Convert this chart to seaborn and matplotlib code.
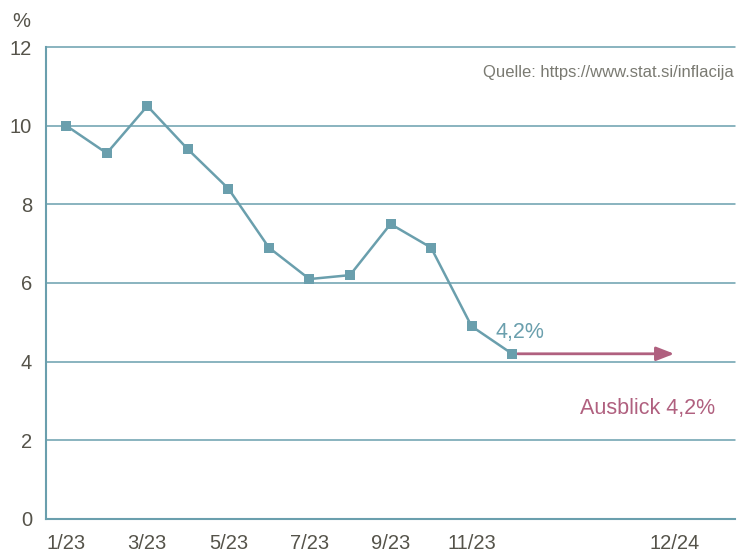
import matplotlib
matplotlib.use("Agg")
import matplotlib.pyplot as plt
import seaborn as sns
import pandas as pd

# Monthly inflation rate, Slovenia 2023 (%)
months = ["1/23", "2/23", "3/23", "4/23", "5/23", "6/23",
          "7/23", "8/23", "9/23", "10/23", "11/23", "12/23"]
inflation = [10.0, 9.3, 10.5, 9.4, 8.4, 6.9, 6.1, 6.2, 7.5, 6.9, 4.9, 4.2]

# Outlook for end of 2024
outlook_label = "12/24"
outlook_value = 4.2
outlook_pos = 15

tick_labels = ["1/23", "3/23", "5/23", "7/23", "9/23", "11/23", "12/24"]
tick_pos = [0, 2, 4, 6, 8, 10, 15]

teal = "#6a9fad"
plum = "#b0607f"
text_col = "#55534a"

sns.set_theme(style="white")
plt.rcParams["font.family"] = ["Liberation Sans", "DejaVu Sans"]

fig = plt.figure(figsize=(7.38, 5.53), dpi=100)
ax = fig.add_axes([0.0623, 0.0615, 0.9337, 0.8535])

df = pd.DataFrame({"pos": range(len(months)), "month": months, "rate": inflation})
sns.lineplot(data=df, x="pos", y="rate", ax=ax, color=teal, linewidth=1.8,
             marker="s", markersize=7, markeredgewidth=0, zorder=4)

# Outlook arrow from last observed month to 12/24
last_pos = len(months) - 1
ax.annotate("", xy=(outlook_pos, outlook_value), xytext=(last_pos, inflation[-1]),
            arrowprops=dict(arrowstyle="-|>,head_length=0.9,head_width=0.35",
                            color=plum, lw=2, shrinkA=4, shrinkB=0), zorder=3)

ax.text(last_pos + 0.2, inflation[-1] + 0.55, "4,2%", color=teal, fontsize=15.5,
        ha="center", va="center")
ax.text(14.35, 2.8, f"Ausblick {outlook_value:.1f}%".replace(".", ","), color=plum,
        fontsize=15.5, ha="center", va="center")
ax.text(16.48, 11.35, "Quelle: https://www.stat.si/inflacija", color="#7a7a72",
        fontsize=12, ha="right", va="center")

ax.set_xlim(-0.5, 16.5)
ax.set_ylim(0, 12)
ax.set_yticks(range(0, 13, 2))
ax.set_xticks(tick_pos)
ax.set_xticklabels(tick_labels)
ax.tick_params(axis="both", length=0, labelsize=14.5, colors=text_col)
ax.tick_params(axis="x", pad=11)
ax.tick_params(axis="y", pad=10)
ax.set_xlabel("")
ax.set_ylabel("")

ax.grid(axis="y", color=teal, linewidth=1.1)
for line in ax.get_ygridlines():
    line.set_clip_on(False)
ax.set_axisbelow(True)
for side in ["top", "right"]:
    ax.spines[side].set_visible(False)
ax.spines["left"].set_color(teal)
ax.spines["left"].set_linewidth(1.5)
ax.spines["bottom"].set_color(teal)
ax.spines["bottom"].set_linewidth(1.5)

fig.text(0.016, 0.962, "%", fontsize=14.5, color=text_col, ha="left", va="center")

fig.savefig("out.png", dpi=100, facecolor="white")
